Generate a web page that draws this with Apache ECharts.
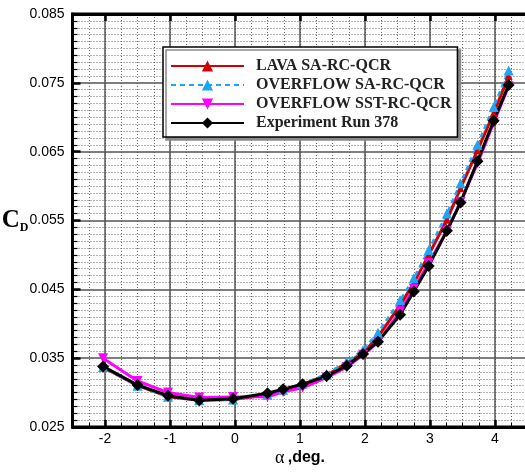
<!DOCTYPE html>
<html>
<head>
<meta charset="utf-8">
<script src="https://cdn.jsdelivr.net/npm/echarts@6/dist/echarts.min.js"></script>
<style>html,body{margin:0;padding:0;background:#fff;}#c{width:525px;height:472px;}</style>
</head>
<body>
<div id="c"></div>
<script>
// Angle of attack (deg) shared by all series
const alpha = [-2.03, -1.5, -1.03, -0.55, -0.03, 0.5, 0.74, 1.04, 1.41, 1.72, 1.97, 2.2, 2.54, 2.75, 2.98, 3.26, 3.47, 3.73, 3.98, 4.21];
// Drag coefficient values
const lavaSA   = [0.0337, 0.0310, 0.0294, 0.0289, 0.0290, 0.0297, 0.0304, 0.0312, 0.0325, 0.0343, 0.0358, 0.0381, 0.0427, 0.0459, 0.0500, 0.0551, 0.0597, 0.0652, 0.0706, 0.0760];
const overSA   = [0.0337, 0.0310, 0.0294, 0.0289, 0.0290, 0.0297, 0.0304, 0.0313, 0.0327, 0.0345, 0.0362, 0.0387, 0.0434, 0.0466, 0.0507, 0.0560, 0.0604, 0.0660, 0.0715, 0.0768];
const overSST  = [0.0350, 0.0317, 0.0300, 0.0293, 0.02935, 0.0294, 0.0301, 0.0307, 0.0322, 0.0337, 0.0355, 0.0373, 0.0418, 0.0451, 0.0488, 0.0535, 0.0577, 0.0633, 0.0692, 0.0745];
const expRun   = [0.0338, 0.0311, 0.02955, 0.0289, 0.0291, 0.0299, 0.0305, 0.0312, 0.0324, 0.0339, 0.0356, 0.0374, 0.0413, 0.0447, 0.0484, 0.0535, 0.0576, 0.0636, 0.0695, 0.0747];
const seriesNames = ['LAVA SA-RC-QCR', 'OVERFLOW SA-RC-QCR', 'OVERFLOW SST-RC-QCR', 'Experiment Run 378'];
const xRange = [-2.5, 4.5];
const yRange = [0.025, 0.085];
const yStep = 0.01;

const pts = arr => alpha.map((a, i) => [a, arr[i]]);
const chart = echarts.init(document.getElementById('c'), null, {renderer: 'canvas'});
const sans = 'Liberation Sans, Arial, Helvetica, sans-serif';
const serif = 'Liberation Serif, Times New Roman, serif';

chart.setOption({
  animation: false,
  backgroundColor: '#fff',
  grid: {left: 72.5, top: 14, right: -2.5, bottom: 45, containLabel: false, outerBoundsMode: 'none',
         show: true, borderColor: '#000', borderWidth: 3, backgroundColor: 'transparent'},
  legend: {
    orient: 'vertical', left: 163, top: 47,
    data: seriesNames,
    itemWidth: 73, itemHeight: 14, itemGap: 3,
    padding: [11, 6, 6, 7],
    backgroundColor: '#fff', borderColor: '#000', borderWidth: 1.5,
    shadowColor: '#8a8a8a', shadowOffsetX: 3, shadowOffsetY: 3, shadowBlur: 0,
    textStyle: {fontFamily: serif, fontWeight: 'bold', fontSize: 16, color: '#222', lineHeight: 16, padding: [0, 0, 0, 7]}
  },
  xAxis: [
    { // major axis
      type: 'value', min: xRange[0], max: xRange[1], splitNumber: 7, position: 'bottom', z: 2,
      axisLine: {show: true, onZero: false, lineStyle: {color: '#000', width: 3}},
      axisTick: {show: true, inside: true, length: 7, lineStyle: {color: '#000', width: 2.5}},
      axisLabel: {show: true, showMinLabel: false, showMaxLabel: false, margin: 5, color: '#000', fontFamily: sans, fontSize: 14},
      splitLine: {show: true, lineStyle: {color: '#555', width: 1.5}},
      name: '{a|α} {b|,deg.}', nameLocation: 'middle', nameGap: 22, nameMoveOverlap: false,
      nameTextStyle: {rich: {a: {fontFamily: serif, fontSize: 18, color: '#000'}, b: {fontFamily: sans, fontWeight: 'bold', fontSize: 16, color: '#000'}}}
    },
    { // minor grid
      type: 'value', min: xRange[0], max: xRange[1], interval: 0.25, position: 'bottom', z: 1,
      axisLine: {show: false, onZero: false},
      axisTick: {show: true, inside: true, length: 4, lineStyle: {color: '#000', width: 1}},
      axisLabel: {show: false},
      splitLine: {show: true, lineStyle: {color: '#666', width: 1, type: [1, 2]}}
    },
    { // top mirrored ticks
      type: 'value', min: xRange[0], max: xRange[1], splitNumber: 7, position: 'top', z: 2,
      axisLine: {show: true, onZero: false, lineStyle: {color: '#000', width: 3}},
      axisTick: {show: true, inside: true, length: 7, lineStyle: {color: '#000', width: 2.5}},
      axisLabel: {show: false}, splitLine: {show: false}
    }
  ],
  yAxis: [{
    type: 'value', min: yRange[0], max: yRange[1], interval: yStep, z: 2,
    axisLine: {show: true, onZero: false, lineStyle: {color: '#000', width: 3}},
    axisTick: {show: true, inside: true, length: 8, lineStyle: {color: '#000', width: 2.5}},
    minorTick: {show: true, splitNumber: 10, length: 5, lineStyle: {color: '#000', width: 1.2}},
    axisLabel: {margin: 8, color: '#000', fontFamily: sans, fontSize: 14, formatter: v => v.toFixed(3)},
    splitLine: {show: true, lineStyle: {color: '#555', width: 1.5}},
    minorSplitLine: {show: true, lineStyle: {color: '#666', width: 1, type: [1, 2]}},
    name: '{c|C}{d|D}', nameLocation: 'middle', nameRotate: 0, nameGap: 44, nameMoveOverlap: false,
    nameTextStyle: {rich: {c: {fontFamily: serif, fontWeight: 'bold', fontSize: 25, color: '#000'},
                           d: {fontFamily: serif, fontWeight: 'bold', fontSize: 12, color: '#000', padding: [14, 0, 0, 0]}}}
  }],
  series: [
    {name: seriesNames[0], type: 'line', data: pts(lavaSA), symbol: 'triangle', symbolSize: 8,
     lineStyle: {color: '#d40000', width: 3}, itemStyle: {color: '#d40000'}},
    {name: seriesNames[1], type: 'line', data: pts(overSA), symbol: 'triangle', symbolSize: 10,
     lineStyle: {color: '#1ea6f5', width: 2.5, type: [5, 4]}, itemStyle: {color: '#1ea6f5'}},
    {name: seriesNames[2], type: 'line', data: pts(overSST), symbol: 'triangle', symbolRotate: 180, symbolSize: 10,
     lineStyle: {color: '#ff00ff', width: 3}, itemStyle: {color: '#ff00ff'}},
    {name: seriesNames[3], type: 'line', data: pts(expRun), symbol: 'diamond', symbolSize: 12,
     lineStyle: {color: '#000', width: 3}, itemStyle: {color: '#000'}}
  ]
});
</script>
</body>
</html>
